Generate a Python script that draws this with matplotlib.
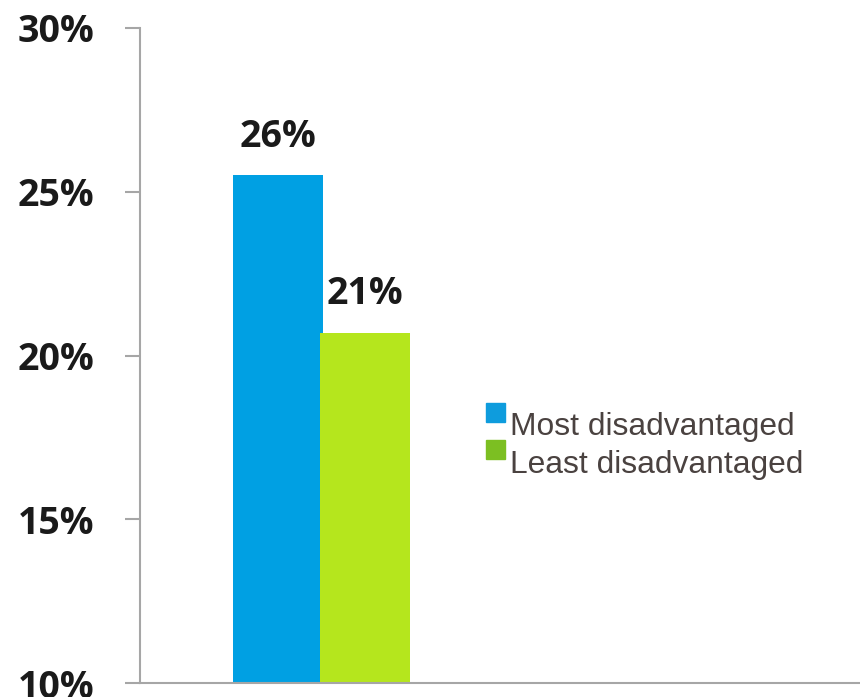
"""Share of students by disadvantage group: two-bar comparison with a side legend."""
import matplotlib
matplotlib.use("Agg")
import matplotlib.pyplot as plt
from matplotlib.patches import Rectangle

groups = ["Most disadvantaged", "Least disadvantaged"]
values = [25.5, 20.7]
bar_colors = ["#00A0E3", "#B5E61D"]
legend_colors = ["#0E9CDD", "#7CBF22"]
yticks = [10, 15, 20, 25, 30]

num_font = dict(family="Open Sans", fontweight="bold", fontsize=27, color="#1A1A1A")

fig = plt.figure(figsize=(8.6, 6.97), dpi=100)
ax = fig.add_axes([140 / 860, 14 / 697, 720 / 860, 655 / 697])

# two bars side by side, the second one slightly overlapping the first
centers = [0.191, 0.3125]
for x, v, c in zip(centers, values, bar_colors):
    ax.bar(x, v - 10, bottom=10, width=0.125, color=c, zorder=2)
    ax.annotate(f"{v:.0f}%", (x, v), xytext=(0, 14), textcoords="offset points",
                ha="center", va="bottom", **num_font)

ax.set_xlim(0, 1)
ax.set_ylim(10, 30)
ax.set_yticks(yticks)
ax.set_yticklabels([f"{t}%" for t in yticks], **num_font)
ax.set_xticks([])
ax.tick_params(axis="y", length=11, width=1.5, color="#A6A6A6", pad=22)

for side in ["top", "right"]:
    ax.spines[side].set_visible(False)
for side in ["left", "bottom"]:
    ax.spines[side].set_color("#A6A6A6")
    ax.spines[side].set_linewidth(1.5)
ax.spines["bottom"].set_zorder(3)

# legend: small squares sitting a little above each label's baseline
sq_bottoms = [0.3985, 0.342]
baselines = [0.3786, 0.3206]
for name, c, sb, bl in zip(groups, legend_colors, sq_bottoms, baselines):
    ax.add_patch(Rectangle((0.4806, sb), 0.0264, 0.029, transform=ax.transAxes,
                           color=c, clip_on=False))
    ax.text(0.514, bl, name, transform=ax.transAxes, ha="left", va="baseline",
            fontsize=22.9, family="Liberation Sans", color="#4A4240")

fig.savefig("out.png", dpi=100)
plt.close(fig)
